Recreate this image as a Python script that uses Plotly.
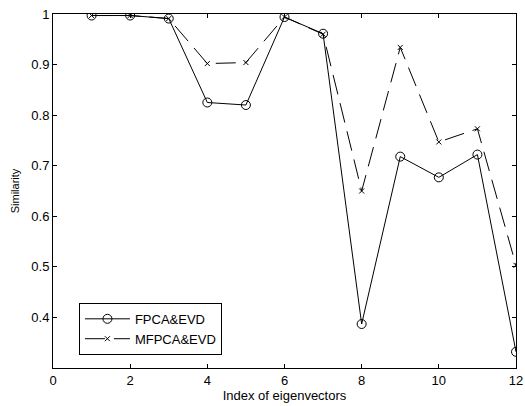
import plotly.graph_objects as go

idx = [1, 2, 3, 4, 5, 6, 7, 8, 9, 10, 11, 12]
fpca_evd = [0.997, 0.997, 0.991, 0.825, 0.820, 0.994, 0.961, 0.387, 0.718, 0.677, 0.722, 0.332]
mfpca_evd = [0.997, 0.997, 0.991, 0.902, 0.904, 0.994, 0.960, 0.650, 0.934, 0.747, 0.773, 0.503]

fig = go.Figure()
fig.add_trace(go.Scatter(
    x=idx, y=fpca_evd, name="FPCA&EVD", mode="lines+markers",
    line=dict(color="black", width=1),
    marker=dict(symbol="circle-open", size=9, color="black", line=dict(width=1)),
))
fig.add_trace(go.Scatter(
    x=idx, y=mfpca_evd, name="MFPCA&EVD", mode="lines+markers",
    line=dict(color="black", width=1, dash="20px,9px"),
    marker=dict(symbol="x-thin-open", size=5, color="black", line=dict(width=1, color="black")),
))

axis_common = dict(
    showline=True, linecolor="black", linewidth=1, mirror="ticks",
    ticks="inside", ticklen=4, tickcolor="black", showgrid=False, zeroline=False,
    automargin=False,
    tickfont=dict(family="Liberation Sans, Arial", size=13, color="black"),
)
fig.update_layout(
    width=525, height=406,
    margin=dict(l=53, r=9, t=14, b=38),
    paper_bgcolor="white", plot_bgcolor="white",
    font=dict(family="Liberation Sans, Arial", size=11, color="black"),
    xaxis=dict(range=[0, 12], dtick=2, tick0=0,
               title=dict(text="Index of eigenvectors", standoff=0, font=dict(size=13)),
               **axis_common),
    yaxis=dict(range=[0.3, 1.0], tickvals=[0.4, 0.5, 0.6, 0.7, 0.8, 0.9, 1.0],
               ticktext=["0.4", "0.5", "0.6", "0.7", "0.8", "0.9", "1"],
               title=dict(text="Similarity", standoff=9, font=dict(size=11)),
               **axis_common),
    legend=dict(x=0.056, y=0.184, xanchor="left", yanchor="top",
                bordercolor="black", borderwidth=1, bgcolor="white",
                font=dict(size=13), tracegroupgap=0, itemwidth=45),
    showlegend=True,
)
fig.write_html("out.html", config={"displayModeBar": False},
               post_script="document.body.style.margin='0';")
